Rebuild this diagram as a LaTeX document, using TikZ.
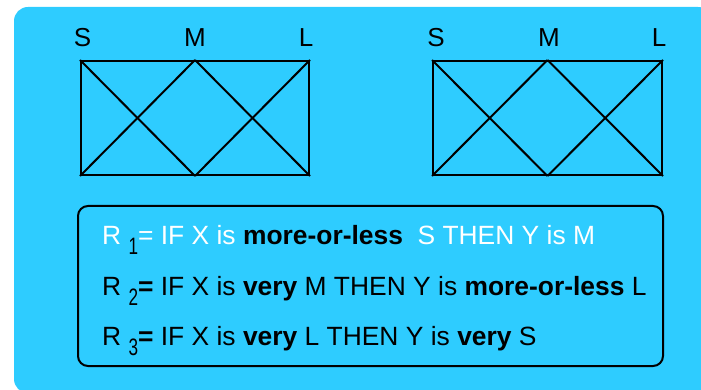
\documentclass[tikz,border=0pt]{standalone}
\usepackage{fontspec}
\setmainfont{Liberation Sans}
\usepackage{graphicx}
\definecolor{panelcyan}{HTML}{2ECCFF}
\newcommand{\subdig}[1]{\raisebox{-10pt}{\scalebox{0.65}[0.9]{#1}}}
\begin{document}
\begin{tikzpicture}[x=1pt,y=-1pt,
  fuzzbox/.style={draw=black,line width=2pt,inner sep=0pt,minimum width=228pt,minimum height=114pt},
  xline/.style={draw=black,line width=2pt},
  setlabel/.style={anchor=base,inner sep=0pt,font=\fontsize{26}{30}\selectfont},
  rulebox/.style={draw=black,line width=2pt,rounded corners=10pt,inner sep=0pt,minimum width=585pt,minimum height=160pt},
  ruletext/.style={anchor=base west,inner sep=0pt,font=\fontsize{26.4}{30}\selectfont}]
\useasboundingbox (0,0) rectangle (701,390);
\fill[panelcyan,rounded corners=14pt] (14,7) rectangle (712,393);
% fuzzy set boxes
\node[fuzzbox] (b1) at (195,118) {};
\node[fuzzbox,minimum width=229pt] (b2) at (547.5,118) {};
\foreach \b in {b1,b2}{
  \draw[xline] (\b.north west) -- (\b.south);
  \draw[xline] (\b.south west) -- (\b.north);
  \draw[xline] (\b.north) -- (\b.south east);
  \draw[xline] (\b.south) -- (\b.north east);
}
\node[setlabel] (s1) at (82.5,47) {S};
\node[setlabel] (m1) at (195,47) {M};
\node[setlabel] (l1) at (306,47) {L};
\node[setlabel] (s2) at (436,47) {S};
\node[setlabel] (m2) at (549,47) {M};
\node[setlabel] (l2) at (659,47) {L};
% rules
\node[rulebox] (rb) at (370.5,286) {};
\node[ruletext,text=white] (r1) at (102,244.5) {R\ \textcolor{black}{\subdig{1}}= IF X is \textcolor{black}{\textbf{more-or-less}}\ \ S THEN Y is M};
\node[ruletext] (r2) at (102,295.5) {R\ \subdig{2}\textbf{=} IF X is \textbf{very} M THEN Y is \textbf{more-or-less} L};
\node[ruletext] (r3) at (102,345.5) {R\ \subdig{3}\textbf{=} IF X is \textbf{very} L THEN Y is \textbf{very} S};
\end{tikzpicture}
\end{document}
